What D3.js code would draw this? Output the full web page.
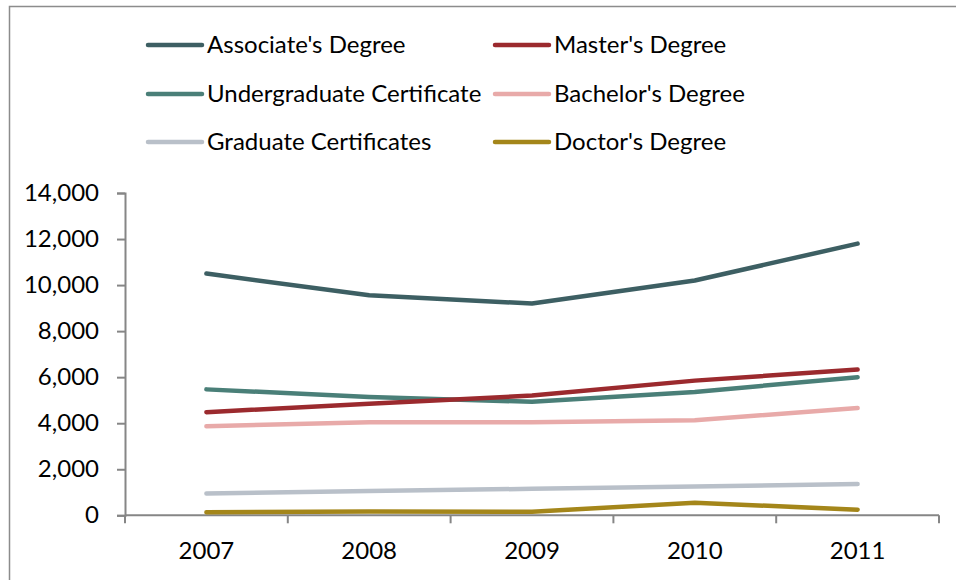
<!DOCTYPE html>
<html>
<head>
<meta charset="utf-8">
<script src="https://cdn.jsdelivr.net/npm/d3@7"></script>
<style>
  body { margin: 0; background: #fff; }
  svg { display: block; font-family: Lato, "Open Sans", sans-serif; }
</style>
</head>
<body>
<div id="chart"></div>
<script>
var years = ['2007', '2008', '2009', '2010', '2011'];
var seriesNames = ["Associate's Degree", "Master's Degree", 'Undergraduate Certificate',
	"Bachelor's Degree", 'Graduate Certificates', "Doctor's Degree"];
var seriesColors = ['#3d5f63', '#9b2a2e', '#4a7f78', '#e8aaa9', '#b9c0c9', '#a4861a'];
var associate = [10500, 9560, 9200, 10200, 11800];
var master = [4480, 4850, 5200, 5850, 6330];
var undergradCert = [5470, 5140, 4930, 5360, 6000];
var bachelor = [3870, 4040, 4040, 4130, 4660];
var gradCert = [950, 1060, 1150, 1250, 1360];
var doctor = [130, 160, 150, 550, 240];
var yTicks = [0, 2000, 4000, 6000, 8000, 10000, 12000, 14000];

var seriesValues = [associate, master, undergradCert, bachelor, gradCert, doctor];

var width = 956, height = 580;
var margin = {top: 193, right: 17, bottom: 64, left: 125};
var fontSize = '24px';

var svg = d3.select('#chart').append('svg')
	.attr('width', width)
	.attr('height', height);

// outer frame
svg.append('rect')
	.attr('x', 9.5).attr('y', 6.5)
	.attr('width', width + 10).attr('height', height + 10)
	.attr('fill', 'none')
	.attr('stroke', '#8c8c8c')
	.attr('stroke-width', 1.5);

var x = d3.scaleBand()
	.domain(years)
	.range([margin.left, width - margin.right]);

var y = d3.scaleLinear()
	.domain([0, 14000])
	.range([height - margin.bottom - 0.7, margin.top]);

var axisColor = '#868686';

// y axis
var yAxis = svg.append('g')
	.attr('transform', 'translate(' + margin.left + ',0)')
	.call(d3.axisLeft(y).tickValues(yTicks).tickSize(8).tickPadding(18)
		.tickFormat(d3.format(',')));
yAxis.select('.domain').attr('stroke', axisColor).attr('stroke-width', 2);
yAxis.selectAll('.tick line').attr('stroke', axisColor).attr('stroke-width', 2);
yAxis.selectAll('.tick text')
	.attr('fill', '#000')
	.style('font-size', fontSize)
	.style('font-family', 'Lato, sans-serif');

// x axis with ticks between categories
var xAxisG = svg.append('g')
	.attr('transform', 'translate(0,' + y(0) + ')');
xAxisG.append('line')
	.attr('x1', x.range()[0]).attr('x2', x.range()[1])
	.attr('stroke', axisColor).attr('stroke-width', 2);
var edges = years.map(function(d){ return x(d); }).concat([x.range()[1]]);
xAxisG.selectAll('line.tick')
	.data(edges)
	.enter().append('line')
	.attr('class', 'tick')
	.attr('x1', function(d){ return d; })
	.attr('x2', function(d){ return d; })
	.attr('y1', 0).attr('y2', 8)
	.attr('stroke', axisColor).attr('stroke-width', 2);
xAxisG.selectAll('text')
	.data(years)
	.enter().append('text')
	.attr('x', function(d){ return x(d) + x.bandwidth() / 2; })
	.attr('y', 35)
	.attr('dy', '0.35em')
	.attr('text-anchor', 'middle')
	.style('font-size', fontSize)
	.text(function(d){ return d; });

// lines
var line = d3.line()
	.x(function(d, i){ return x(years[i]) + x.bandwidth() / 2; })
	.y(function(d){ return y(d); });

// draw bottom series last so overlaps look like the original
var drawOrder = [5, 4, 3, 2, 1, 0];
svg.append('g').selectAll('path')
	.data(drawOrder)
	.enter().append('path')
	.attr('d', function(i){ return line(seriesValues[i]); })
	.attr('fill', 'none')
	.attr('stroke', function(i){ return seriesColors[i]; })
	.attr('stroke-width', 4.5)
	.attr('stroke-linecap', 'round')
	.attr('stroke-linejoin', 'round');

// legend, two columns
var legendCols = [148, 495];
var legendRows = [45, 94, 142];
var legend = svg.append('g').selectAll('g')
	.data(seriesNames)
	.enter().append('g')
	.attr('transform', function(d, i){
		return 'translate(' + [legendCols[i % 2], legendRows[Math.floor(i / 2)]] + ')';
	});

legend.append('line')
	.attr('x1', 0).attr('x2', 54)
	.attr('stroke', function(d, i){ return seriesColors[i]; })
	.attr('stroke-width', 4.5)
	.attr('stroke-linecap', 'round');

legend.append('text')
	.attr('x', 59)
	.attr('dy', '0.35em')
	.style('font-size', fontSize)
	.text(function(d){ return d; });
</script>
</body>
</html>
